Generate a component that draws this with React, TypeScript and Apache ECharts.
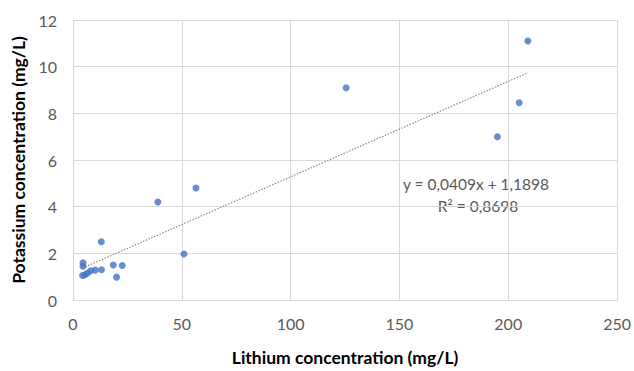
import React, { useEffect, useRef } from "react";
import * as echarts from "echarts";

const lithium = [209, 125.5, 205, 195, 56.5, 39, 51, 13, 4.6, 4.6, 4.4, 5.5, 6.6, 8.1, 10.2, 13.1, 18.5, 22.6, 20];
const potassium = [11.1, 9.1, 8.45, 7.0, 4.8, 4.2, 1.97, 2.5, 1.6, 1.45, 1.05, 1.08, 1.15, 1.25, 1.28, 1.3, 1.5, 1.48, 0.98];
const trendSlope = 0.0409;
const trendIntercept = 1.1898;
const equationText = "y = 0,0409x + 1,1898";
const r2Text = "R² = 0,8698";
const xTicks = [0, 50, 100, 150, 200, 250];
const yTicks = [0, 2, 4, 6, 8, 10, 12];

export default function App() {
  const ref = useRef<HTMLDivElement>(null);
  useEffect(() => {
    if (!ref.current) return;
    const chart = echarts.init(ref.current, null, { renderer: "svg" });
    const pts = lithium.map((x, i) => [x, potassium[i]]);
    const xmin = Math.min(...lithium);
    const xmax = Math.max(...lithium);
    const trend = [
      [xmin, trendSlope * xmin + trendIntercept],
      [xmax, trendSlope * xmax + trendIntercept],
    ];
    const font = "Lato, 'Open Sans', sans-serif";
    chart.setOption({
      animation: false,
      grid: { left: 73, right: 16, top: 20, bottom: 70 },
      xAxis: {
        type: "value",
        min: xTicks[0],
        max: xTicks[xTicks.length - 1],
        interval: 50,
        name: "Lithium concentration (mg/L)",
        nameLocation: "middle",
        nameGap: 48,
        nameTextStyle: { fontFamily: font, fontWeight: "bold", fontSize: 17.5, color: "#000" },
        axisLine: { show: true, lineStyle: { color: "#d9d9d9" } },
        axisTick: { show: false },
        axisLabel: { color: "#595959", fontSize: 16, fontFamily: font, margin: 15 },
        splitLine: { show: true, lineStyle: { color: "#d9d9d9" } },
      },
      yAxis: {
        type: "value",
        min: yTicks[0],
        max: yTicks[yTicks.length - 1],
        interval: 2,
        name: "Potassium concentration (mg/L)",
        nameLocation: "middle",
        nameGap: 42,
        nameTextStyle: { fontFamily: font, fontWeight: "bold", fontSize: 17.5, color: "#000" },
        axisLine: { show: false },
        axisTick: { show: false },
        axisLabel: { color: "#595959", fontSize: 16, fontFamily: font, margin: 16 },
        splitLine: { show: true, lineStyle: { color: "#d9d9d9" } },
      },
      series: [
        {
          type: "line",
          data: trend,
          symbol: "none",
          lineStyle: { color: "#8c8c8c", width: 1.2, type: [1.5, 1.5] },
          z: 1,
        },
        {
          type: "scatter",
          data: pts,
          symbolSize: 7,
          itemStyle: { color: "#4472C4" },
          z: 3,
        },
      ],
      graphic: [
        {
          type: "text",
          x: 476,
          y: 184,
          style: { text: equationText, fill: "#595959", fontSize: 15.5, fontFamily: font, align: "center", verticalAlign: "middle" },
        },
        {
          type: "text",
          x: 478,
          y: 206,
          style: { text: r2Text, fill: "#595959", fontSize: 15.5, fontFamily: font, align: "center", verticalAlign: "middle" },
        },
      ],
    });
    return () => chart.dispose();
  }, []);
  return <div ref={ref} style={{ position: "fixed", left: 0, top: 0, width: 634, height: 371, background: "#fff" }} />;
}
